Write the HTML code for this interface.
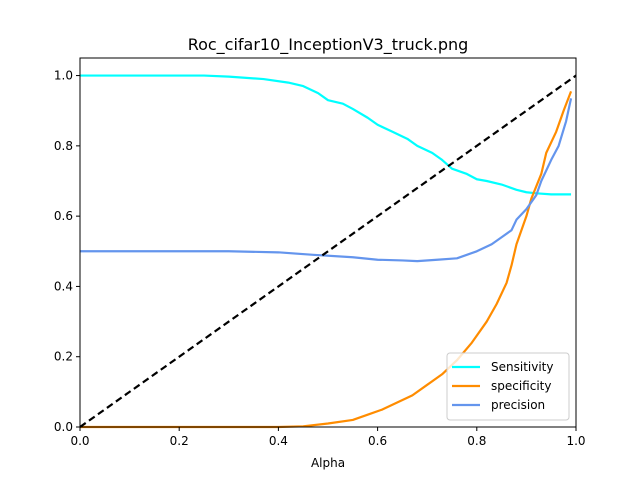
<!DOCTYPE html>
<html><head><meta charset="utf-8"><style>body{margin:0;background:#fff}svg{font-family:"DejaVu Sans","Liberation Sans",sans-serif}</style></head>
<body>
<svg id="chart" width="640" height="480" viewBox="0 0 640 480">
<rect width="640" height="480" fill="#fff"/>
<text x="328" y="50" text-anchor="middle" font-size="16">Roc_cifar10_InceptionV3_truck.png</text>
<g id="plot"></g>
</svg>
<script>
const sensX=[0,0.25,0.3,0.37,0.42,0.45,0.48,0.5,0.53,0.55,0.58,0.6,0.63,0.66,0.68,0.71,0.73,0.75,0.78,0.8,0.82,0.85,0.88,0.9,0.92,0.95,0.99];
const sensY=[1,1,0.997,0.99,0.98,0.97,0.95,0.93,0.92,0.905,0.88,0.86,0.84,0.82,0.8,0.78,0.76,0.735,0.72,0.705,0.70,0.69,0.675,0.668,0.665,0.662,0.662];
const specX=[0,0.4,0.45,0.5,0.55,0.58,0.61,0.64,0.67,0.7,0.73,0.76,0.79,0.82,0.84,0.86,0.87,0.88,0.9,0.91,0.93,0.94,0.96,0.975,0.99];
const specY=[0,0,0.002,0.01,0.02,0.035,0.05,0.07,0.09,0.12,0.15,0.19,0.24,0.3,0.35,0.41,0.46,0.52,0.6,0.65,0.72,0.78,0.84,0.9,0.955];
const precX=[0,0.3,0.4,0.47,0.55,0.6,0.65,0.68,0.72,0.76,0.78,0.8,0.83,0.85,0.87,0.88,0.9,0.92,0.93,0.95,0.965,0.98,0.99];
const precY=[0.5,0.5,0.497,0.49,0.483,0.476,0.474,0.472,0.476,0.48,0.49,0.5,0.52,0.54,0.56,0.59,0.62,0.66,0.7,0.76,0.8,0.87,0.935];
const xTicks=[0,0.2,0.4,0.6,0.8,1.0];
const yTicks=[0,0.2,0.4,0.6,0.8,1.0];
const L=80,R=576,T=58,B=427;
const sx=v=>L+v*(R-L), sy=v=>B-v/1.05*(B-T);
const g=document.getElementById('plot');const NS='http://www.w3.org/2000/svg';
function mk(t,a,p){const e=document.createElementNS(NS,t);for(const k in a)e.setAttribute(k,a[k]);(p||g).appendChild(e);return e;}
function line(xs,ys,c,name,dash){const e=mk('polyline',{points:xs.map((x,i)=>sx(x)+','+sy(ys[i])).join(' '),fill:'none',stroke:c,'stroke-width':2.2,'stroke-linejoin':'round'});if(dash)e.setAttribute('stroke-dasharray',dash);

}
line(sensX,sensY,'#00ffff','sensitivity-line');
line(specX,specY,'#ff8c00','specificity-line');
line(precX,precY,'#6495ed','precision-line');
line([0,1],[0,1],'#000','diagonal-line','7,4');
const fr=mk('rect',{x:L,y:T,width:R-L,height:B-T,fill:'none',stroke:'#000','stroke-width':1});


xTicks.forEach(v=>{mk('line',{x1:sx(v),x2:sx(v),y1:B,y2:B+4,stroke:'#000'});const t=mk('text',{x:sx(v),y:B+18,'text-anchor':'middle','font-size':12});t.textContent=v.toFixed(1);

});
yTicks.forEach(v=>{mk('line',{x1:L-4,x2:L,y1:sy(v),y2:sy(v),stroke:'#000'});const t=mk('text',{x:L-7,y:sy(v)+4,'text-anchor':'end','font-size':12});t.textContent=v.toFixed(1);

});
const xl=mk('text',{x:328,y:467,'text-anchor':'middle','font-size':12});xl.textContent='Alpha';


const lg=mk('g',{});


mk('rect',{x:447,y:353,width:122,height:67,rx:3,fill:'#fff','fill-opacity':0.8,stroke:'#ccc'},lg);
[['Sensitivity','#00ffff'],['specificity','#ff8c00'],['precision','#6495ed']].forEach((d,i)=>{const y=367+i*19;
mk('line',{x1:452,x2:480,y1:y,y2:y,stroke:d[1],'stroke-width':2.2},lg);
const t=mk('text',{x:491,y:y+4,'font-size':12},lg);t.textContent=d[0];

});
</script>
</body></html>
